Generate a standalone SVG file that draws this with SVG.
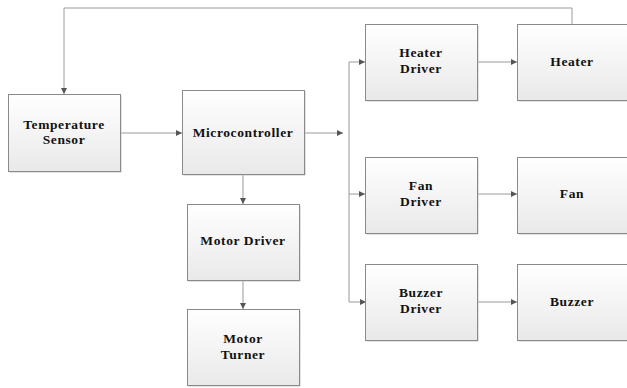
<svg xmlns="http://www.w3.org/2000/svg" width="627" height="388" viewBox="0 0 627 388">
<style>
.box{fill:url(#g);stroke:#8a8a8a;stroke-width:1}
.sh{fill:#c8c8c8}
.t{font-family:"Liberation Serif",serif;font-weight:bold;font-size:13.5px;letter-spacing:0.6px;fill:#111;text-anchor:middle}
.c{fill:none;stroke:#9a9a9a;stroke-width:1}
</style>
<defs>
<linearGradient id="g" x1="0" y1="0" x2="0" y2="1">
<stop offset="0" stop-color="#ffffff"/>
<stop offset="1" stop-color="#e9e9e9"/>
</linearGradient>
<marker id="a" viewBox="0 0 10 10" refX="10" refY="5" markerWidth="8" markerHeight="6" markerUnits="userSpaceOnUse" orient="auto">
<path d="M0,0 L10,5 L0,10 Z" fill="#555"/>
</marker>
</defs>
<g id="connectors">
<path class="c" d="M572,24 V8 H64 V94" marker-end="url(#a)"/>
<path class="c" d="M120,133 H182" marker-end="url(#a)"/>
<path class="c" d="M304,133 H343" marker-end="url(#a)"/>
<path class="c" d="M349,62 V302"/>
<path class="c" d="M349,62 H365" marker-end="url(#a)"/>
<path class="c" d="M349,194 H365" marker-end="url(#a)"/>
<path class="c" d="M349,302 H366" marker-end="url(#a)"/>
<path class="c" d="M477,62 H517" marker-end="url(#a)"/>
<path class="c" d="M477,194 H517" marker-end="url(#a)"/>
<path class="c" d="M477,302 H517" marker-end="url(#a)"/>
<path class="c" d="M243,174 V204" marker-end="url(#a)"/>
<path class="c" d="M243,280 V309" marker-end="url(#a)"/>
</g>
<g id="temperature-sensor">
<rect class="sh" x="9.5" y="95.5" width="112" height="77"/>
<rect class="box" x="8.5" y="94.5" width="112" height="77"/>
<text class="t" x="64" y="129">Temperature</text>
<text class="t" x="64" y="144">Sensor</text>
</g>
<g id="microcontroller">
<rect class="sh" x="183.5" y="91.5" width="122" height="84"/>
<rect class="box" x="182.5" y="90.5" width="122" height="84"/>
<text class="t" x="243" y="137">Microcontroller</text>
</g>
<g id="motor-driver">
<rect class="sh" x="188.5" y="205.5" width="112" height="76"/>
<rect class="box" x="187.5" y="204.5" width="112" height="76"/>
<text class="t" x="243" y="245">Motor Driver</text>
</g>
<g id="motor-turner">
<rect class="sh" x="188.5" y="310.5" width="112" height="76"/>
<rect class="box" x="187.5" y="309.5" width="112" height="76"/>
<text class="t" x="243" y="343">Motor</text>
<text class="t" x="243" y="359">Turner</text>
</g>
<g id="heater-driver">
<rect class="sh" x="366.5" y="25.5" width="112" height="76"/>
<rect class="box" x="365.5" y="24.5" width="112" height="76"/>
<text class="t" x="421" y="57">Heater</text>
<text class="t" x="421" y="73">Driver</text>
</g>
<g id="heater">
<rect class="sh" x="518.5" y="25.5" width="112" height="76"/>
<rect class="box" x="517.5" y="24.5" width="112" height="76"/>
<text class="t" x="572" y="66">Heater</text>
</g>
<g id="fan-driver">
<rect class="sh" x="366.5" y="158.5" width="112" height="76"/>
<rect class="box" x="365.5" y="157.5" width="112" height="76"/>
<text class="t" x="421" y="190">Fan</text>
<text class="t" x="421" y="206">Driver</text>
</g>
<g id="fan">
<rect class="sh" x="518.5" y="158.5" width="112" height="76"/>
<rect class="box" x="517.5" y="157.5" width="112" height="76"/>
<text class="t" x="572" y="198">Fan</text>
</g>
<g id="buzzer-driver">
<rect class="sh" x="366.5" y="265.5" width="112" height="76"/>
<rect class="box" x="365.5" y="264.5" width="112" height="76"/>
<text class="t" x="421" y="297">Buzzer</text>
<text class="t" x="421" y="313">Driver</text>
</g>
<g id="buzzer">
<rect class="sh" x="518.5" y="265.5" width="112" height="76"/>
<rect class="box" x="517.5" y="264.5" width="112" height="76"/>
<text class="t" x="572" y="306">Buzzer</text>
</g>
</svg>
